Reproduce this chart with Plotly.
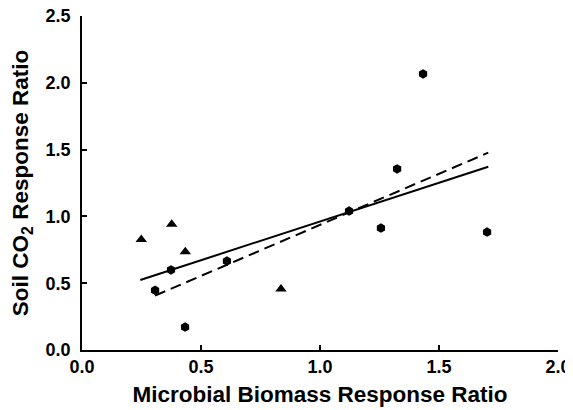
import plotly.graph_objects as go

# Hexagon (circle) series
hex_x = [0.307, 0.374, 0.433, 0.609, 1.122, 1.256, 1.324, 1.433, 1.702]
hex_y = [0.447, 0.599, 0.172, 0.666, 1.040, 0.913, 1.355, 2.066, 0.883]

# Triangle series
tri_x = [0.249, 0.377, 0.434, 0.836]
tri_y = [0.828, 0.941, 0.736, 0.457]

# Regression lines (endpoints)
fit_all_x = [0.245, 1.707]
fit_all_y = [0.524, 1.372]
fit_hex_x = [0.307, 1.707]
fit_hex_y = [0.407, 1.477]

x_ticks = [0.0, 0.5, 1.0, 1.5, 2.0]
y_ticks = [0.0, 0.5, 1.0, 1.5, 2.0, 2.5]

FONT = "Liberation Sans, Arial, sans-serif"

fig = go.Figure()
fig.add_trace(go.Scatter(x=fit_all_x, y=fit_all_y, mode="lines",
                         line=dict(color="black", width=2), showlegend=False))
fig.add_trace(go.Scatter(x=fit_hex_x, y=fit_hex_y, mode="lines",
                         line=dict(color="black", width=2, dash="11px,6px"), showlegend=False))
fig.add_trace(go.Scatter(x=hex_x, y=hex_y, mode="markers",
                         marker=dict(symbol="hexagon", size=9.5, color="black",
                                     line=dict(width=0)), showlegend=False))
fig.add_trace(go.Scatter(x=tri_x, y=tri_y, mode="markers",
                         marker=dict(symbol="triangle-up", size=10, color="black",
                                     line=dict(width=0)), showlegend=False))

axis_common = dict(
    showline=True, linecolor="black", linewidth=1.5,
    ticks="inside", ticklen=5, tickwidth=1.5, tickcolor="black",
    showgrid=False, zeroline=False, mirror=False, automargin=False,
    ticklabeloverflow="allow",
    tickfont=dict(family=FONT, size=18, color="black", weight="bold"),
    tickformat=".1f",
)

# page body has an 8px margin, so the figure is sized to fill the rest
fig.update_layout(
    width=565, height=402,
    margin=dict(l=74, r=15, t=8, b=60),
    plot_bgcolor="white", paper_bgcolor="white",
    xaxis=dict(range=[0, 2], tickvals=x_ticks,
               title=dict(text="Microbial Biomass Response Ratio", standoff=10,
                          font=dict(family=FONT, size=22.5, color="black", weight="bold")),
               **axis_common),
    yaxis=dict(range=[0, 2.5], tickvals=y_ticks, ticklabelstandoff=6,
               title=dict(text="Soil CO<sub>2</sub> Response Ratio", standoff=11,
                          font=dict(family=FONT, size=22.5, color="black", weight="bold")),
               **axis_common),
)

fig.write_html("out.html")
